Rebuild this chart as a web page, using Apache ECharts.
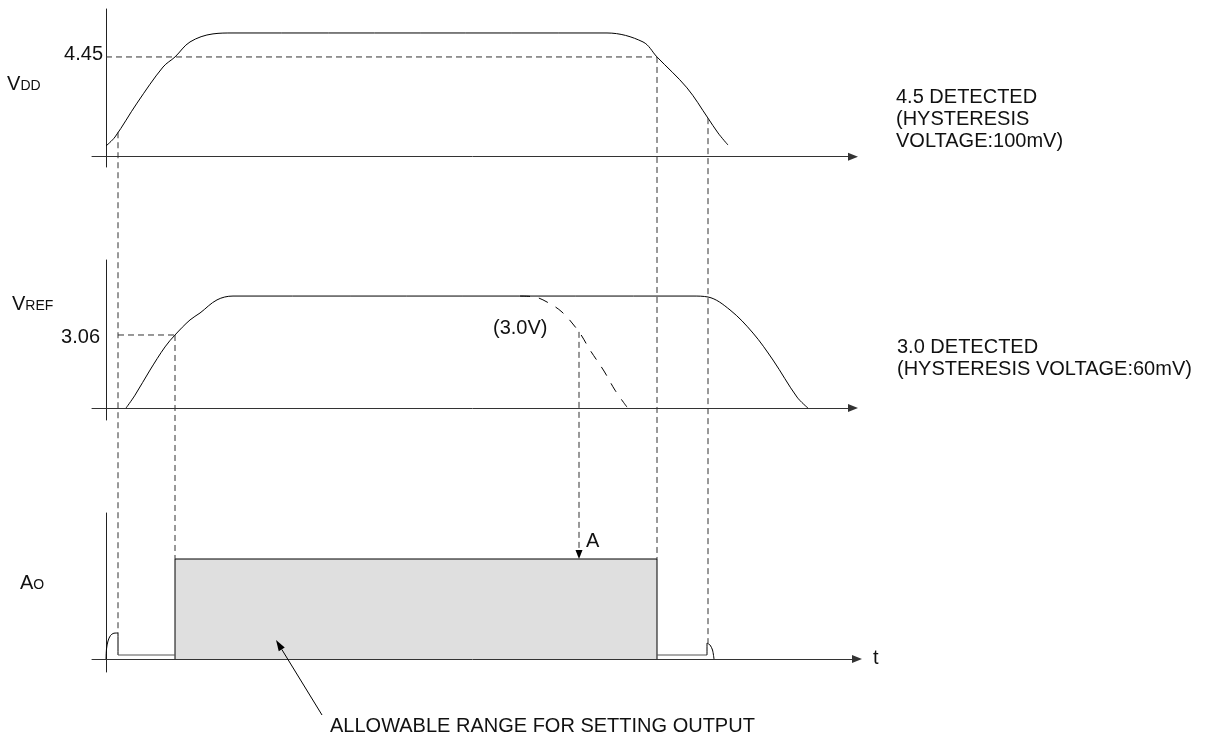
<!DOCTYPE html>
<html>
<head>
<meta charset="utf-8">
<script src="https://cdn.jsdelivr.net/npm/echarts@6/dist/echarts.min.js"></script>
<style>
html,body{margin:0;padding:0;background:#fff;}
#c{width:1207px;height:738px;}
</style>
</head>
<body>
<div id="c"></div>
<script>
// ---------- data (time in arbitrary units, levels in volts / logic) ----------
const T_MIN = -1.4, T_MAX = 74.7;

const vddCurve = [[0,0.48],[0.9,0.88],[3.1,2.39],[5.7,4.0],[6.9,4.45],[8.4,5.12],[10.7,5.48],[12.7,5.52],
  [50.1,5.52],[53.7,5.12],[55.1,4.45],[58.1,3.07],[60.2,1.72],[61.2,1.06],[62.2,0.52]];

const vrefCurve = [[2.0,0],[2.9,0.54],[4.4,1.59],[5.9,2.56],[6.9,3.06],[8.4,3.69],[9.4,3.98],[11.1,4.53],[12.7,4.69],
  [58.7,4.69],[60.2,4.65],[62.4,4.11],[64.7,3.14],[66.7,2.01],[69.1,0.46],[70.2,0]];

const vrefDropCurve = [[41.4,4.69],[42.9,4.65],[44.1,4.44],[45.6,4.02],[47.3,3.19],[48.4,2.43],[49.8,1.55],[50.9,0.75],[52.1,0.04]];

const aoWindow = [[6.9,0],[6.9,1],[55.1,1],[55.1,0]];
const aoOnGlitch = [[0,0],[0.05,0.1],[0.2,0.18],[0.45,0.235],[0.8,0.258],[1.2,0.26],[1.2,0.04]];
const aoLowBefore = [[1.2,0.04],[6.9,0.04]];
const aoLowAfter = [[55.1,0.04],[60.1,0.04]];
const aoOffGlitch = [[60.1,0.04],[60.1,0.16],[60.4,0.14],[60.65,0.09],[60.8,0]];

const vddThreshold = 4.45;
const vrefThreshold = 3.06;

// drop guides: [t, fromGrid, fromLevel, toGrid, toLevel]
const dropGuides = [
  [1.2, 0, 1.09, 2, 0.26],
  [6.9, 1, 3.06, 2, 1.0],
  [55.1, 0, 4.45, 2, 1.0],
  [60.2, 0, 1.72, 2, 0.16]
];
const arrowGuide = [47.3, 1, 3.19, 2, 1.0];
// level guides: [grid, t0, t1, level]
const levelGuides = [
  [0, 0, 55.1, vddThreshold],
  [1, 1.2, 6.9, vrefThreshold]
];

// ---------- chart ----------
const FONT = '"Liberation Sans", Arial, sans-serif';
const chart = echarts.init(document.getElementById('c'), null, {renderer:'canvas'});

const grids = [
  {top: 9, height: 158, ymin: -0.46, ymax: 6.59},
  {top: 260, height: 160, ymin: -0.50, ymax: 6.20},
  {top: 513, height: 159, ymin: -0.13, ymax: 1.46}
];

function xAx(i, extra) {
  return {
    type: 'value', gridIndex: i, min: T_MIN, max: T_MAX,
    axisLine: {show: true, onZero: true, symbol: ['none','triangle'], symbolSize: [8,10],
      symbolOffset: [0, extra || 0], lineStyle: {color: '#333', width: 1}},
    axisTick: {show: false}, axisLabel: {show: false}, splitLine: {show: false}
  };
}
function yAx(i) {
  return {
    type: 'value', gridIndex: i, min: grids[i].ymin, max: grids[i].ymax,
    axisLine: {show: true, onZero: true, lineStyle: {color: '#222', width: 1}},
    axisTick: {show: false}, axisLabel: {show: false}, splitLine: {show: false}
  };
}
function lineSeries(i, data, opts) {
  return Object.assign({
    type: 'line', xAxisIndex: i, yAxisIndex: i, data: data, symbol: 'none', silent: true,
    lineStyle: {color: '#000', width: 1}, z: 3
  }, opts || {});
}

chart.setOption({
  animation: false,
  backgroundColor: '#fff',
  grid: grids.map(g => ({left: 92, width: 761, top: g.top, height: g.height, outerBoundsMode: 'none', containLabel: false})),
  xAxis: [xAx(0), xAx(1), xAx(2, 4)],
  yAxis: [yAx(0), yAx(1), yAx(2)],
  series: [
    lineSeries(0, vddCurve, {smooth: 0.35}),
    lineSeries(1, vrefCurve, {smooth: 0.35}),
    lineSeries(1, vrefDropCurve, {smooth: 0.35, lineStyle: {color: '#000', width: 1, type: [10, 9]}}),
    lineSeries(2, aoWindow, {areaStyle: {color: '#dfdfdf', opacity: 1}, z: 2}),
    lineSeries(2, aoOnGlitch, {smooth: 0.3}),
    lineSeries(2, aoLowBefore, {lineStyle: {color: '#555', width: 1}}),
    lineSeries(2, aoLowAfter, {lineStyle: {color: '#555', width: 1}}),
    lineSeries(2, aoOffGlitch, {smooth: 0.3})
  ]
});

function px(g, t, v) { return chart.convertToPixel({gridIndex: g}, [t, v]); }
const DASH = {stroke: '#333', lineWidth: 1, lineDash: [6, 4]};
const graphics = [];

dropGuides.forEach(d => {
  const a = px(d[1], d[0], d[2]), b = px(d[3], d[0], d[4]);
  graphics.push({type: 'line', shape: {x1: a[0], y1: a[1], x2: b[0], y2: b[1]}, style: DASH, z: 10});
});
levelGuides.forEach(l => {
  const a = px(l[0], l[1], l[3]), b = px(l[0], l[2], l[3]);
  graphics.push({type: 'line', shape: {x1: a[0], y1: a[1], x2: b[0], y2: b[1]}, style: DASH, z: 10});
});
(function () {
  const a = px(arrowGuide[1], arrowGuide[0], arrowGuide[2]);
  const b = px(arrowGuide[3], arrowGuide[0], arrowGuide[4]);
  graphics.push({type: 'line', shape: {x1: a[0], y1: a[1], x2: b[0], y2: b[1] - 9}, style: DASH, z: 10});
  graphics.push({type: 'polygon', shape: {points: [[b[0] - 3.5, b[1] - 9], [b[0] + 3.5, b[1] - 9], [b[0], b[1]]]},
    style: {fill: '#000'}, z: 11});
})();

// pointer arrow for the allowable range label
(function () {
  const tail = [322, 715], tip = [276, 640];
  const dx = tip[0] - tail[0], dy = tip[1] - tail[1], L = Math.hypot(dx, dy);
  const ux = dx / L, uy = dy / L, len = 11, hw = 3.5;
  const bx = tip[0] - ux * len, by = tip[1] - uy * len;
  graphics.push({type: 'line', shape: {x1: tail[0], y1: tail[1], x2: bx, y2: by}, style: {stroke: '#000', lineWidth: 1}, z: 10});
  graphics.push({type: 'polygon', shape: {points: [[tip[0], tip[1]], [bx - uy * hw, by + ux * hw], [bx + uy * hw, by - ux * hw]]},
    style: {fill: '#000'}, z: 11});
})();

function txt(text, x, y, size, align) {
  return {type: 'text', z: 20, style: {text: text, x: x, y: y, font: size + 'px ' + FONT, fill: '#111',
    align: align || 'left', verticalAlign: 'middle', textAlign: align || 'left', textVerticalAlign: 'middle'}};
}
const F = 20, S = 14;
graphics.push(
  txt('V', 7, 84, F), txt('DD', 20.5, 86.2, S),
  txt('4.45', 103, 54, F, 'right'),
  txt('V', 12, 304, F), txt('REF', 25.3, 306.2, S),
  txt('3.06', 100, 337, F, 'right'),
  txt('(3.0V)', 493, 328, F),
  txt('A', 20, 583, F), txt('O', 33.3, 585.2, S),
  txt('A', 586, 541, F),
  txt('t', 873, 658, F),
  txt('4.5 DETECTED', 896, 97, F),
  txt('(HYSTERESIS', 896, 119, F),
  txt('VOLTAGE:100mV)', 896, 141, F),
  txt('3.0 DETECTED', 897, 347, F),
  txt('(HYSTERESIS VOLTAGE:60mV)', 897, 369, F),
  txt('ALLOWABLE RANGE FOR SETTING OUTPUT', 330, 726, F)
);

chart.setOption({graphic: graphics});
</script>
</body>
</html>
